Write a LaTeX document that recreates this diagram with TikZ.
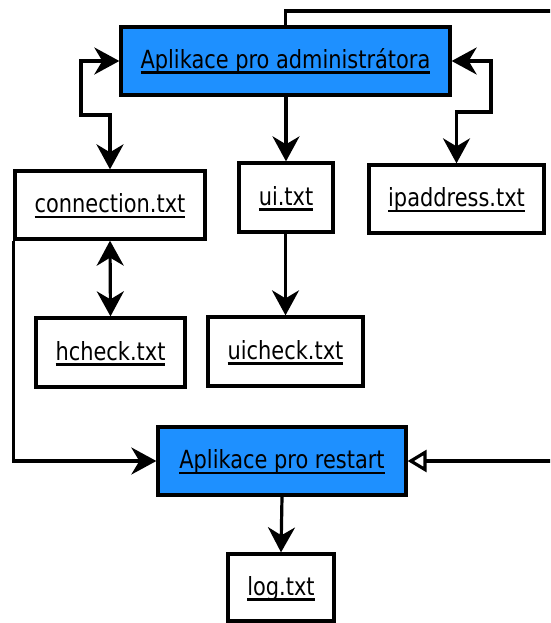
\documentclass[tikz,border=0pt]{standalone}
\usepackage{fontspec}
\setmainfont{DejaVu Sans Condensed}[FakeStretch=0.93]
\usetikzlibrary{arrows.meta}
\definecolor{appblue}{RGB}{30,144,255}
% thick underline placed a little below the baseline
\newcommand\ulx[1]{\setbox0\hbox{#1}\rlap{\copy0}\rule[-5.9pt]{\wd0}{2.9pt}}
\tikzset{
  filebox/.style={draw=black, line width=3.3pt, fill=white, inner sep=0pt,
    font=\fontsize{25pt}{28pt}\selectfont, text height=18pt, text depth=3pt},
  appbox/.style={filebox, fill=appblue},
  tip/.style={Stealth[length=25pt,width=27pt,inset=8pt]},
  arr/.style={line width=3.2pt, -{Stealth[length=25pt,width=27pt,inset=8pt]}},
  biarr/.style={line width=3.2pt, {Stealth[length=25pt,width=27pt,inset=8pt]}-{Stealth[length=25pt,width=27pt,inset=8pt]}},
  openarr/.style={line width=3.2pt, -{Triangle[open,length=19pt,width=22pt,fill=white]}}
}
\begin{document}
\begin{tikzpicture}[x=1pt,y=-1pt]
\useasboundingbox (0,0) rectangle (550,623);
\clip (0,0) rectangle (550,623);
\fill[white] (0,0) rectangle (550,623);

% applications
\node[appbox, minimum width=329pt, minimum height=68pt] (adm) at (285.5,61) {\ulx{Aplikace pro administrátora}};
\node[appbox, minimum width=248pt, minimum height=68pt] (rst) at (282,461) {\ulx{Aplikace pro restart}};

% data files
\node[filebox, minimum width=190pt, minimum height=68pt] (conn) at (110,205) {\ulx{connection.txt}};
\node[filebox, minimum width=94pt, minimum height=69pt] (ui) at (286,197.5) {\ulx{ui.txt}};
\node[filebox, minimum width=175pt, minimum height=68pt] (ip) at (456.5,199) {\ulx{ipaddress.txt}};
\node[filebox, minimum width=149pt, minimum height=69pt] (hck) at (110.5,352.5) {\ulx{hcheck.txt}};
\node[filebox, minimum width=155pt, minimum height=69pt] (uick) at (285.5,351.5) {\ulx{uicheck.txt}};
\node[filebox, minimum width=106pt, minimum height=67pt] (log) at (281,587.5) {\ulx{log.txt}};

% bends of the routed connectors
\coordinate (lbend) at (81,115);
\coordinate (rbend) at (491,112);
\coordinate (topright) at (570,11);

% connectors
\draw[biarr] (adm.west) -| (lbend) -| (conn.north);
\draw[biarr] (adm.east) -| (rbend) -| (ip.north);
\draw[arr] (ui.north |- adm.south) -- (ui.north);
\draw[arr] (ui.south) -- (uick.north |- ui.south) -- (uick.north);
\draw[biarr] (conn.south) -- (hck.north);
\draw[arr] (conn.south west) |- (rst.west);
\draw[openarr] (adm.north) |- (topright) -- (topright |- rst.east) -- (rst.east);
\draw[arr] (rst.south) -- (log.north);
\end{tikzpicture}
\end{document}
